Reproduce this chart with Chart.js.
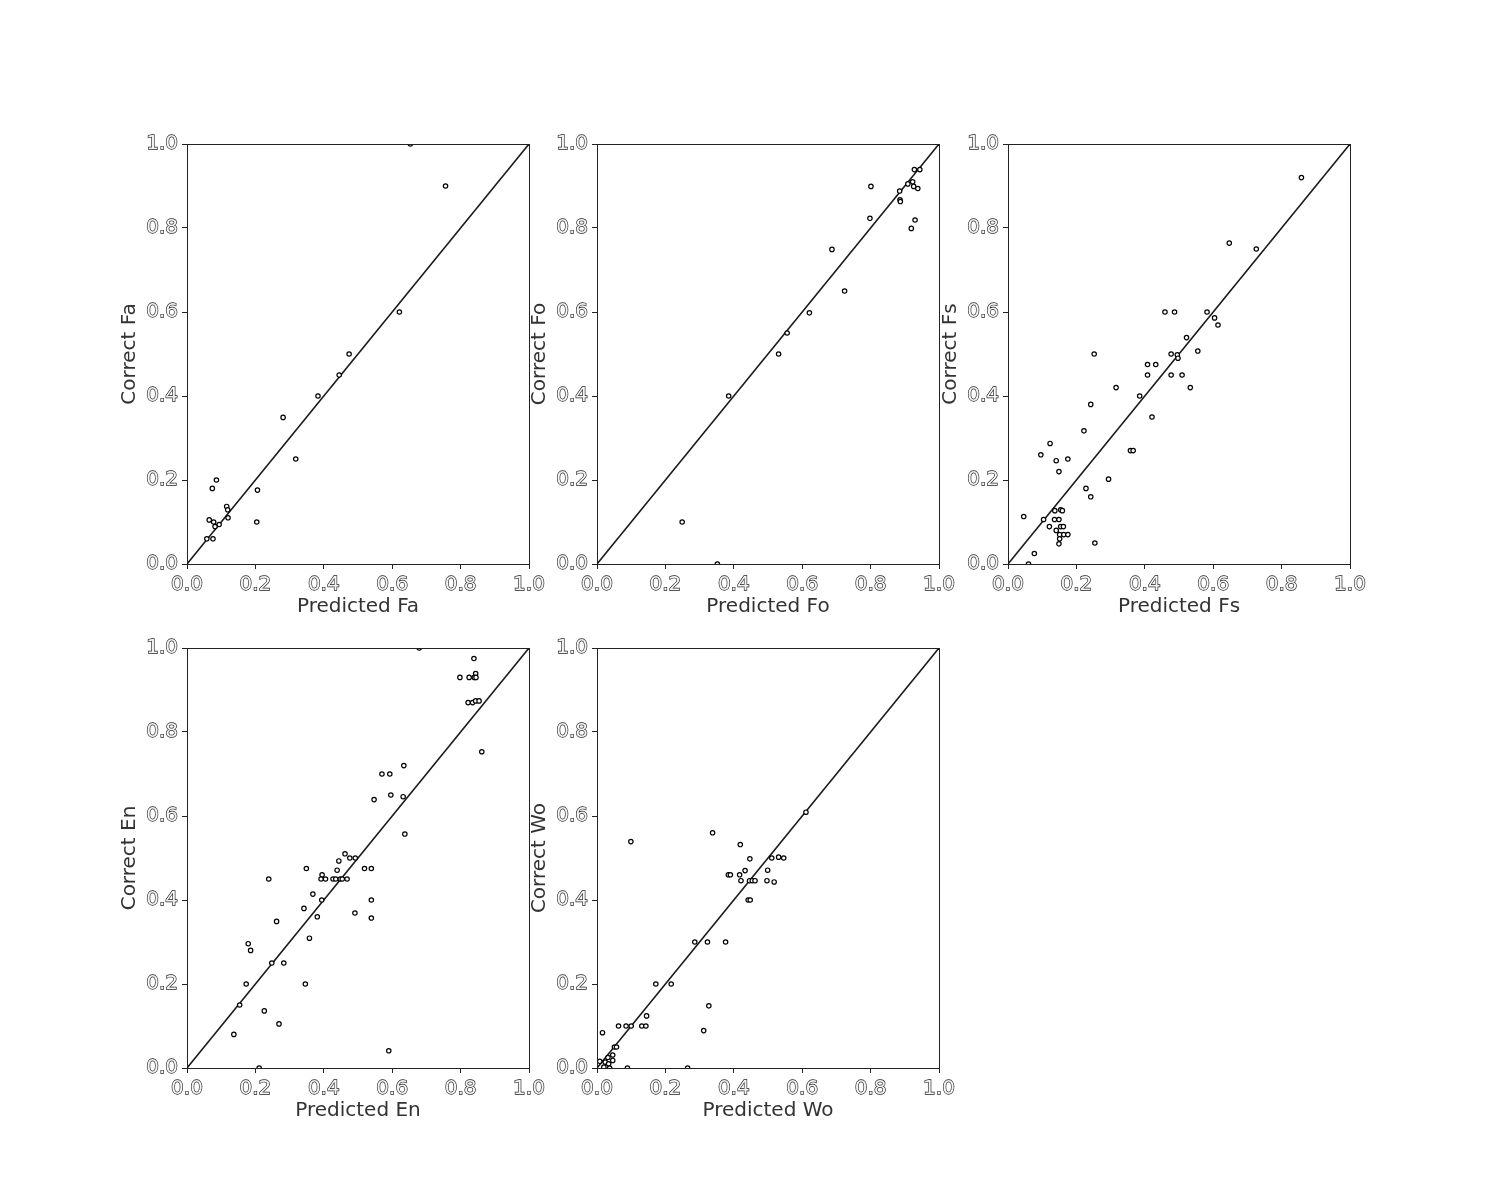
<!DOCTYPE html>
<html>
<head>
<meta charset="utf-8">
<script src="https://cdn.jsdelivr.net/npm/chart.js@4"></script>
<style>
  html, body { margin: 0; padding: 0; background: #ffffff; }
  body { width: 1500px; height: 1200px; position: relative; overflow: hidden; }
  .panel { position: absolute; }
</style>
</head>
<body>
<div class="panel" id="p0"><canvas id="c0"></canvas></div>
<div class="panel" id="p1"><canvas id="c1"></canvas></div>
<div class="panel" id="p2"><canvas id="c2"></canvas></div>
<div class="panel" id="p3"><canvas id="c3"></canvas></div>
<div class="panel" id="p4"><canvas id="c4"></canvas></div>
<script>
// ---- Data ----
const tickValues = [0.0, 0.2, 0.4, 0.6, 0.8, 1.0];
const diagonalLine = [[0, 0], [1, 1]];

const faNames = ["Predicted Fa", "Correct Fa"];
const faPred = [0.653, 0.756, 0.621, 0.474, 0.445, 0.383, 0.281, 0.318, 0.086, 0.074, 0.206, 0.116, 0.119, 0.120, 0.065, 0.078, 0.204, 0.094, 0.082, 0.058, 0.076];
const faCorr = [1.000, 0.900, 0.600, 0.500, 0.450, 0.400, 0.349, 0.250, 0.200, 0.180, 0.176, 0.137, 0.129, 0.110, 0.105, 0.100, 0.100, 0.094, 0.089, 0.060, 0.060];

const foNames = ["Predicted Fo", "Correct Fo"];
const foPred = [0.928, 0.944, 0.923, 0.909, 0.926, 0.938, 0.801, 0.885, 0.886, 0.887, 0.798, 0.930, 0.919, 0.687, 0.724, 0.621, 0.556, 0.531, 0.385, 0.249, 0.352];
const foCorr = [0.939, 0.939, 0.910, 0.905, 0.899, 0.894, 0.899, 0.888, 0.867, 0.863, 0.823, 0.819, 0.799, 0.749, 0.650, 0.598, 0.550, 0.500, 0.400, 0.100, 0.000];

const fsNames = ["Predicted Fs", "Correct Fs"];
const fsPred = [0.858, 0.647, 0.726, 0.459, 0.487, 0.582, 0.604, 0.614, 0.522, 0.477, 0.495, 0.497, 0.555, 0.252, 0.408, 0.432, 0.408, 0.477, 0.509, 0.533, 0.316, 0.385, 0.242, 0.421, 0.222, 0.123, 0.096, 0.358, 0.366, 0.141, 0.175, 0.149, 0.294, 0.228, 0.242, 0.137, 0.154, 0.159, 0.046, 0.104, 0.136, 0.149, 0.121, 0.154, 0.162, 0.141, 0.151, 0.163, 0.175, 0.151, 0.149, 0.254, 0.077, 0.060];
const fsCorr = [0.920, 0.764, 0.750, 0.600, 0.600, 0.600, 0.586, 0.569, 0.539, 0.500, 0.498, 0.490, 0.507, 0.500, 0.475, 0.475, 0.450, 0.450, 0.450, 0.420, 0.420, 0.400, 0.380, 0.350, 0.317, 0.287, 0.260, 0.270, 0.270, 0.246, 0.250, 0.220, 0.202, 0.180, 0.160, 0.127, 0.129, 0.127, 0.113, 0.106, 0.106, 0.106, 0.089, 0.089, 0.089, 0.080, 0.070, 0.070, 0.070, 0.060, 0.048, 0.050, 0.025, 0.000];

const enNames = ["Predicted En", "Correct En"];
const enPred = [0.679, 0.839, 0.798, 0.825, 0.844, 0.840, 0.845, 0.822, 0.835, 0.844, 0.854, 0.862, 0.634, 0.570, 0.593, 0.596, 0.632, 0.547, 0.637, 0.462, 0.476, 0.492, 0.444, 0.349, 0.519, 0.539, 0.439, 0.395, 0.392, 0.405, 0.427, 0.435, 0.448, 0.454, 0.468, 0.239, 0.368, 0.394, 0.539, 0.342, 0.491, 0.381, 0.539, 0.262, 0.358, 0.179, 0.186, 0.248, 0.283, 0.173, 0.346, 0.154, 0.226, 0.269, 0.137, 0.590, 0.211];
const enCorr = [1.000, 0.975, 0.930, 0.930, 0.939, 0.930, 0.930, 0.870, 0.870, 0.874, 0.874, 0.753, 0.720, 0.700, 0.700, 0.650, 0.646, 0.639, 0.557, 0.510, 0.500, 0.500, 0.493, 0.475, 0.475, 0.475, 0.471, 0.460, 0.450, 0.450, 0.450, 0.450, 0.450, 0.450, 0.450, 0.450, 0.414, 0.400, 0.400, 0.380, 0.369, 0.360, 0.357, 0.349, 0.309, 0.296, 0.280, 0.250, 0.250, 0.200, 0.200, 0.150, 0.136, 0.105, 0.080, 0.041, 0.000];

const woNames = ["Predicted Wo", "Correct Wo"];
const woPred = [0.611, 0.338, 0.099, 0.419, 0.447, 0.511, 0.531, 0.546, 0.433, 0.499, 0.384, 0.390, 0.417, 0.421, 0.446, 0.454, 0.462, 0.497, 0.518, 0.442, 0.448, 0.286, 0.323, 0.376, 0.172, 0.217, 0.327, 0.145, 0.063, 0.085, 0.100, 0.131, 0.143, 0.312, 0.016, 0.051, 0.057, 0.046, 0.046, 0.032, 0.024, 0.034, 0.008, 0.089, 0.265, 0.037, 0.020];
const woCorr = [0.609, 0.560, 0.539, 0.532, 0.498, 0.500, 0.502, 0.500, 0.470, 0.471, 0.460, 0.460, 0.460, 0.446, 0.446, 0.446, 0.446, 0.446, 0.443, 0.400, 0.400, 0.300, 0.300, 0.300, 0.200, 0.200, 0.148, 0.124, 0.100, 0.100, 0.100, 0.100, 0.100, 0.089, 0.084, 0.050, 0.050, 0.031, 0.018, 0.025, 0.014, 0.010, 0.016, 0.000, 0.000, 0.000, 0.002];

// ---- Layout (plot-area placement of each panel) ----
const panels = [
  { names: faNames, pred: faPred, corr: faCorr, left: 187, top: 144 },
  { names: foNames, pred: foPred, corr: foCorr, left: 597, top: 144 },
  { names: fsNames, pred: fsPred, corr: fsCorr, left: 1008, top: 144 },
  { names: enNames, pred: enPred, corr: enCorr, left: 187, top: 648 },
  { names: woNames, pred: woPred, corr: woCorr, left: 597, top: 648 }
];
const PLOT_W = 342, PLOT_H = 420;
const Y_AXIS_W = 73, X_AXIS_H = 59, PAD_TOP = 20, PAD_RIGHT = 30;
const FONT = { family: "'DejaVu Sans', sans-serif", size: 20 };

const framePlugin = {
  id: 'frame',
  afterDatasetsDraw(chart) {
    const a = chart.chartArea, ctx = chart.ctx;
    ctx.save();
    ctx.strokeStyle = '#222222';
    ctx.lineWidth = 1;
    ctx.strokeRect(Math.round(a.left) + 0.5, Math.round(a.top) + 0.5, Math.round(a.right - a.left), Math.round(a.bottom - a.top));
    ctx.restore();
  }
};

function axisCfg(title, isY) {
  return {
    type: 'linear',
    min: 0, max: 1,
    afterBuildTicks: (s) => { s.ticks = tickValues.map(v => ({ value: v })); },
    afterFit: (s) => { if (isY) s.width = Y_AXIS_W; else s.height = X_AXIS_H; },
    grid: { display: true, drawOnChartArea: false, drawTicks: true, tickLength: 5, color: '#222222', tickColor: '#222222' },
    border: { display: true, color: '#222222', width: 1 },
    ticks: {
      font: FONT, color: '#f4f4f4', textStrokeColor: '#1a1a1a', textStrokeWidth: 1.3,
      padding: 4, autoSkip: false, maxRotation: 0,
      callback: (v) => Number(v).toFixed(1)
    },
    title: { display: true, text: title, font: FONT, color: '#333333', padding: { top: 4, bottom: 4 } }
  };
}

panels.forEach((p, i) => {
  const box = document.getElementById('p' + i);
  const w = Y_AXIS_W + PLOT_W + PAD_RIGHT;
  const h = PAD_TOP + PLOT_H + X_AXIS_H;
  box.style.left = (p.left - Y_AXIS_W) + 'px';
  box.style.top = (p.top - PAD_TOP) + 'px';
  box.style.width = w + 'px';
  box.style.height = h + 'px';
  const pts = p.pred.map((x, k) => ({ x: x, y: p.corr[k] }));
  new Chart(document.getElementById('c' + i), {
    type: 'scatter',
    data: {
      datasets: [
        {
          type: 'line',
          data: diagonalLine.map(d => ({ x: d[0], y: d[1] })),
          borderColor: '#1a1a1a', borderWidth: 1.6,
          pointRadius: 0, fill: false, order: 2
        },
        {
          data: pts,
          pointRadius: 2.2, pointBorderWidth: 1.2,
          pointBackgroundColor: '#ffffff', pointBorderColor: '#000000',
          order: 1
        }
      ]
    },
    options: {
      responsive: true, maintainAspectRatio: false, animation: false,
      devicePixelRatio: 1,
      layout: { padding: { top: PAD_TOP, right: PAD_RIGHT, left: 0, bottom: 0 } },
      plugins: { legend: { display: false }, tooltip: { enabled: false } },
      scales: { x: axisCfg(p.names[0], false), y: axisCfg(p.names[1], true) }
    },
    plugins: [framePlugin]
  });
});
</script>
</body>
</html>
